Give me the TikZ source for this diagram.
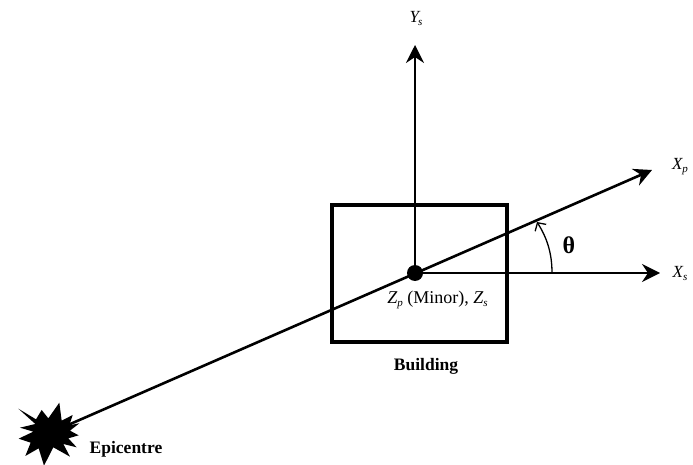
\documentclass[tikz,border=0pt]{standalone}
\usepackage{fontspec}
\setmainfont{Liberation Serif}
\usetikzlibrary{arrows.meta}
\tikzset{
  axis/.style={line width=2pt,-{Stealth[length=18pt,width=18pt,inset=6pt]}},
  lbl/.style={inner sep=0pt,font=\fontsize{17}{19}\selectfont},
  boldlbl/.style={inner sep=0pt,font=\fontsize{17.5}{19}\selectfont\bfseries}
}
\newcommand{\subs}[1]{\raisebox{-3pt}{\fontsize{11}{12}\selectfont #1}}
\begin{document}
\begin{tikzpicture}[x=1pt,y=-1pt]
\useasboundingbox (0,0) rectangle (693,465);
\fill[white] (0,0) rectangle (693,465);
\coordinate (O) at (415,273);
\coordinate (ytip) at (415,45);
\coordinate (xstip) at (660,273);
\coordinate (xptip) at (652,170);
\coordinate (ep) at (68,425);
\coordinate (arcS) at (552,273);
\coordinate (arcE) at (537,222);
\node[draw,line width=3.6pt,minimum width=175pt,minimum height=137pt,inner sep=0pt] (bld) at (419.5,273.5) {};
\draw[axis] (O) -- (ytip);
\draw[axis] (O) -- (xstip);
\draw[axis,line width=2.6pt] (ep) -- (xptip);
\fill (O) circle (8);
\draw[line width=1.3pt,-{Straight Barb[length=6pt,width=13pt]}] (arcS) .. controls (552,253) and (547,238) .. (arcE);
\begin{scope}[shift={(0,380)},x=0.3333pt,y=-0.3333pt]
\fill (55,86) -- (108,118) -- (125,90) -- (145,115) -- (178,68) -- (185,122) -- (218,105)
 -- (208,136) -- (238,130) -- (210,152) -- (236,166) -- (205,175) -- (230,202) -- (190,192)
 -- (210,230) -- (160,202) -- (132,257) -- (116,205) -- (76,228) -- (92,188) -- (56,176)
 -- (100,155) -- (60,143) -- (106,132) -- cycle;
\end{scope}
\node[lbl] (ylab) at (416,18) {\textit{Y\kern-1pt\subs{s}}};
\node[lbl] (xplab) at (680,167) {\textit{X\subs{p}}};
\node[lbl] (xslab) at (680,273) {\textit{X\subs{s}}};
\node[inner sep=0pt,font=\fontsize{24}{26}\selectfont\bfseries] (th) at (569,245) {θ};
\node[lbl,font=\fontsize{18}{20}\selectfont] (zlab) at (437.5,300) {\textit{Z\subs{p}} (Minor), \textit{Z\subs{s}}};
\node[boldlbl] (blab) at (426,366) {Building};
\node[boldlbl] (elab) at (126,449) {Epicentre};
\end{tikzpicture}
\end{document}
